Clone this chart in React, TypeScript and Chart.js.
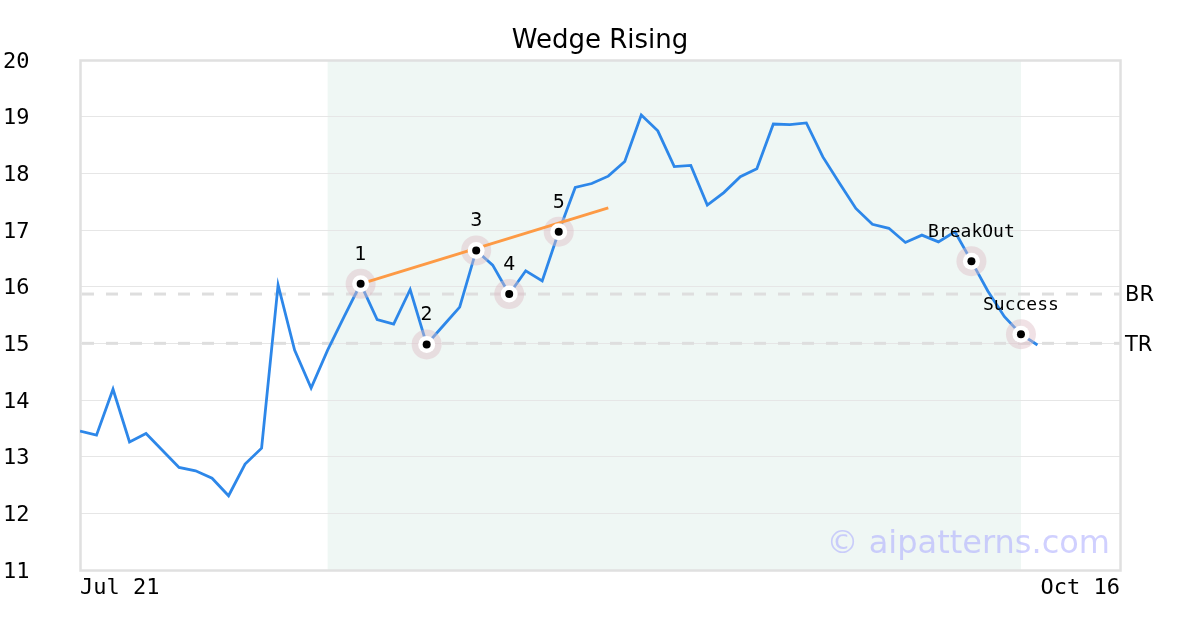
import React, { useEffect, useRef } from 'react';
import { Chart, registerables } from 'chart.js';

Chart.register(...registerables);

const chartTitle = 'Wedge Rising';
const watermarkText = '© aipatterns.com';

// x tick labels (trading-day index -> label)
const xTickIndex = [0, 63];
const xTickLabels = ['Jul 21', 'Oct 16'];

// y range / ticks
const yMin = 11;
const yMax = 20;
const yStep = 1;

// closing prices, one per trading day
const prices = [
  13.45, 13.38, 14.19, 13.26, 13.41, 13.11, 12.81, 12.75, 12.62, 12.31,
  12.87, 13.15, 16.03, 14.88, 14.21, 14.88, 15.47, 16.05, 15.42, 15.34,
  15.95, 14.98, 15.31, 15.64, 16.64, 16.38, 15.87, 16.28, 16.10, 16.97,
  17.75, 17.82, 17.95, 18.21, 19.03, 18.75, 18.12, 18.14, 17.44, 17.66,
  17.94, 18.08, 18.87, 18.86, 18.89, 18.29, 17.83, 17.38, 17.10, 17.03,
  16.78, 16.91, 16.79, 16.97, 16.45, 15.92, 15.47, 15.16, 14.97,
];

// wedge upper trend line
const wedgeX = [17, 32];
const wedgeY = [16.05, 17.39];

// pattern pivots
const markerX = [17, 21, 24, 26, 29, 54, 57];
const markerLabels = ['1', '2', '3', '4', '5', 'BreakOut', 'Success'];

// horizontal levels
const levelValues = [15.87, 15.0];
const levelLabels = ['BR', 'TR'];

// pattern shaded range (index)
const patternRange = [15, 57];

const SANS = '"DejaVu Sans", sans-serif';
const MONO = '"DejaVu Sans Mono", monospace';

const overlayPlugin = {
  id: 'overlay',
  beforeDraw(chart: any) {
    const { ctx, chartArea: a, scales } = chart;
    const x = scales.x;
    ctx.save();
    const x0 = x.getPixelForValue(patternRange[0]);
    const x1 = x.getPixelForValue(patternRange[1]);
    ctx.fillStyle = '#eff7f4';
    ctx.fillRect(x0, a.top, x1 - x0, a.bottom - a.top);

    ctx.fillStyle = '#000';
    ctx.font = `26px ${SANS}`;
    ctx.textAlign = 'center';
    ctx.textBaseline = 'alphabetic';
    ctx.fillText(chartTitle, (a.left + a.right) / 2, 48);
    ctx.restore();
  },
  beforeDatasetsDraw(chart: any) {
    const { ctx, chartArea: a, scales } = chart;
    const y = scales.y;
    ctx.save();
    levelValues.forEach((v, i) => {
      const py = y.getPixelForValue(v);
      ctx.strokeStyle = '#dedede';
      ctx.lineWidth = 3;
      ctx.setLineDash([12, 12]);
      ctx.beginPath();
      ctx.moveTo(a.left + 2, py);
      ctx.lineTo(a.right, py);
      ctx.stroke();
      ctx.setLineDash([]);
      ctx.fillStyle = '#000';
      ctx.font = `21px ${SANS}`;
      ctx.textAlign = 'left';
      ctx.textBaseline = 'middle';
      ctx.fillText(levelLabels[i], a.right + 5, py + 2);
    });
    ctx.strokeStyle = '#e0e0e0';
    ctx.lineWidth = 2.5;
    ctx.strokeRect(a.left + 0.5, a.top + 0.5, a.right - a.left, a.bottom - a.top);
    ctx.restore();
  },
  afterDatasetsDraw(chart: any) {
    const { ctx, chartArea: a, scales } = chart;
    const x = scales.x;
    const y = scales.y;
    ctx.save();
    ctx.fillStyle = '#000';
    ctx.textAlign = 'center';
    ctx.textBaseline = 'alphabetic';
    markerX.forEach((mx, i) => {
      const label = markerLabels[i];
      const px = x.getPixelForValue(mx);
      const py = y.getPixelForValue(prices[mx]);
      ctx.font = /^\d+$/.test(label) ? `19px ${SANS}` : `18px ${MONO}`;
      ctx.fillText(label, px, py - 24);
    });
    ctx.font = `32px ${SANS}`;
    ctx.fillStyle = 'rgba(170,170,255,0.55)';
    ctx.textAlign = 'right';
    ctx.fillText(watermarkText, a.right - 10, 553);
    ctx.restore();
  },
};

export default function App() {
  const ref = useRef<HTMLCanvasElement | null>(null);

  useEffect(() => {
    if (!ref.current) return;
    const priceData = prices.map((v, i) => ({ x: i, y: v }));
    const wedgeData = wedgeX.map((v, i) => ({ x: v, y: wedgeY[i] }));
    const markerData = markerX.map((i) => ({ x: i, y: prices[i] }));

    const chart = new Chart(ref.current, {
      type: 'line',
      data: {
        datasets: [
          {
            data: priceData,
            borderColor: '#2d87e9',
            borderWidth: 2.8,
            pointRadius: 0,
            tension: 0,
            order: 6,
          },
          {
            data: markerData,
            showLine: false,
            pointRadius: 15,
            pointBackgroundColor: 'rgba(222,188,198,0.45)',
            pointBorderWidth: 0,
            order: 5,
          },
          {
            data: wedgeData,
            borderColor: '#fd9a45',
            borderWidth: 3,
            pointRadius: 0,
            order: 4,
          },
          {
            data: markerData,
            showLine: false,
            pointRadius: 8.5,
            pointBackgroundColor: '#ffffff',
            pointBorderWidth: 0,
            order: 3,
          },
          {
            data: markerData,
            showLine: false,
            pointRadius: 4,
            pointBackgroundColor: '#000000',
            pointBorderWidth: 0,
            order: 2,
          },
        ] as any,
      },
      options: {
        responsive: false,
        animation: false,
        devicePixelRatio: 1,
        layout: { padding: { left: 3, right: 80, top: 60, bottom: 0 } },
        plugins: {
          legend: { display: false },
          tooltip: { enabled: false },
          title: { display: false },
        },
        scales: {
          x: {
            type: 'linear',
            min: xTickIndex[0],
            max: xTickIndex[xTickIndex.length - 1],
            grid: { display: false },
            border: { display: false },
            afterBuildTicks: (s: any) => {
              s.ticks = xTickIndex.map((v) => ({ value: v }));
            },
            afterFit: (s: any) => {
              s.height = 60;
            },
            ticks: {
              autoSkip: false,
              maxRotation: 0,
              align: 'inner',
              padding: -3,
              color: '#000',
              font: { family: MONO, size: 22 },
              callback: (v: any) => {
                const k = xTickIndex.indexOf(Number(v));
                return k >= 0 ? xTickLabels[k] : '';
              },
            },
          },
          y: {
            type: 'linear',
            min: yMin,
            max: yMax,
            grid: { color: '#e6e6e6', lineWidth: 1, drawTicks: false },
            border: { display: false },
            afterFit: (s: any) => {
              s.width = 77;
            },
            ticks: {
              stepSize: yStep,
              crossAlign: 'far',
              labelOffset: 2,
              color: '#000',
              font: { family: MONO, size: 22 },
            },
          },
        } as any,
      },
      plugins: [overlayPlugin],
    });
    return () => chart.destroy();
  }, []);

  return (
    <div style={{ position: 'absolute', left: 0, top: 0, width: 1200, height: 630 }}>
      <canvas ref={ref} width={1200} height={630} style={{ display: 'block' }} />
    </div>
  );
}
